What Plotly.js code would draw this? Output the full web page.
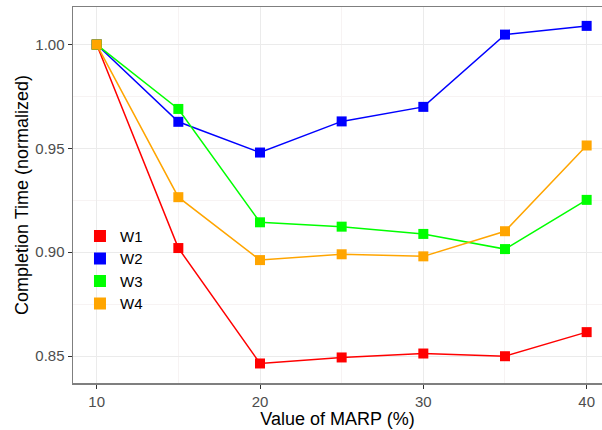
<!DOCTYPE html>
<html>
<head>
<meta charset="utf-8">
<script src="https://cdn.plot.ly/plotly-3.0.1.min.js"></script>
<style>html,body{margin:0;padding:0;background:#fff;}#chart{width:602px;height:430px;}</style>
</head>
<body>
<div id="chart"></div>
<script>
const marp = [10, 15, 20, 25, 30, 35, 40];
const seriesNames = ["W1", "W2", "W3", "W4"];
const w1 = [1.000, 0.902, 0.8464, 0.8493, 0.8512, 0.8499, 0.8615];
const w2 = [1.000, 0.9628, 0.948, 0.963, 0.970, 1.0048, 1.009];
const w3 = [1.000, 0.969, 0.9144, 0.9123, 0.9088, 0.9015, 0.9252];
const w4 = [1.000, 0.9265, 0.8962, 0.899, 0.898, 0.9101, 0.9514];
const colors = ["#ff0000", "#0000ff", "#00ff00", "#ffa500"];
const xTicks = [10, 20, 30, 40];
const yTicks = [0.85, 0.90, 0.95, 1.00];

const values = [w1, w2, w3, w4];
const traces = [];
values.forEach((v, i) => {
  traces.push({
    x: marp, y: v, type: "scatter", mode: "lines+markers",
    name: seriesNames[i], showlegend: false,
    line: {color: colors[i], width: 1.5},
    marker: {color: colors[i], symbol: "square", size: 10}
  });
});
values.forEach((v, i) => {
  traces.push({
    x: [null], y: [null], type: "scatter", mode: "markers",
    name: seriesNames[i], showlegend: true,
    marker: {color: colors[i], symbol: "square", size: 8}
  });
});

const font = "Liberation Sans, Arial, sans-serif";
const layout = {
  width: 602, height: 430,
  margin: {l: 73, r: 0, t: 7, b: 47},
  paper_bgcolor: "#ffffff", plot_bgcolor: "#ffffff",
  font: {family: font, color: "#000"},
  showlegend: true,
  legend: {
    x: 0.0132, y: 0.434, xanchor: "left", yanchor: "top",
    bgcolor: "rgba(0,0,0,0)", font: {size: 15, family: font, color: "#000"},
    traceorder: "normal", itemsizing: "constant"
  },
  xaxis: {
    range: [8.55, 40.94], tickvals: xTicks, ticktext: xTicks.map(String),
    tickfont: {size: 15, color: "#4d4d4d"},
    ticks: "outside", ticklen: 4, tickcolor: "#333", tickwidth: 1,
    showgrid: true, gridcolor: "#ebebeb", gridwidth: 1,
    minor: {dtick: 5, tick0: 5, showgrid: true, gridcolor: "#f7f3f3", gridwidth: 1, ticks: ""},
    showline: true, linecolor: "#7f7f7f", linewidth: 1.5, mirror: true,
    zeroline: false,
    title: {text: "Value of MARP (%)", font: {size: 18, color: "#000"}, standoff: 2}
  },
  yaxis: {
    range: [0.837, 1.0181], tickvals: yTicks, ticktext: yTicks.map(v => v.toFixed(2)),
    tickfont: {size: 15, color: "#4d4d4d"},
    ticks: "outside", ticklen: 4, tickcolor: "#333", tickwidth: 1,
    showgrid: true, gridcolor: "#ebebeb", gridwidth: 1,
    minor: {dtick: 0.025, tick0: 0.825, showgrid: true, gridcolor: "#f7f3f3", gridwidth: 1, ticks: ""},
    showline: true, linecolor: "#7f7f7f", linewidth: 1.5, mirror: false,
    zeroline: false,
    title: {text: "Completion Time (normalized)", font: {size: 18, color: "#000"}, standoff: 2}
  }
};
Plotly.newPlot("chart", traces, layout, {displayModeBar: false, staticPlot: true});
</script>
</body>
</html>
